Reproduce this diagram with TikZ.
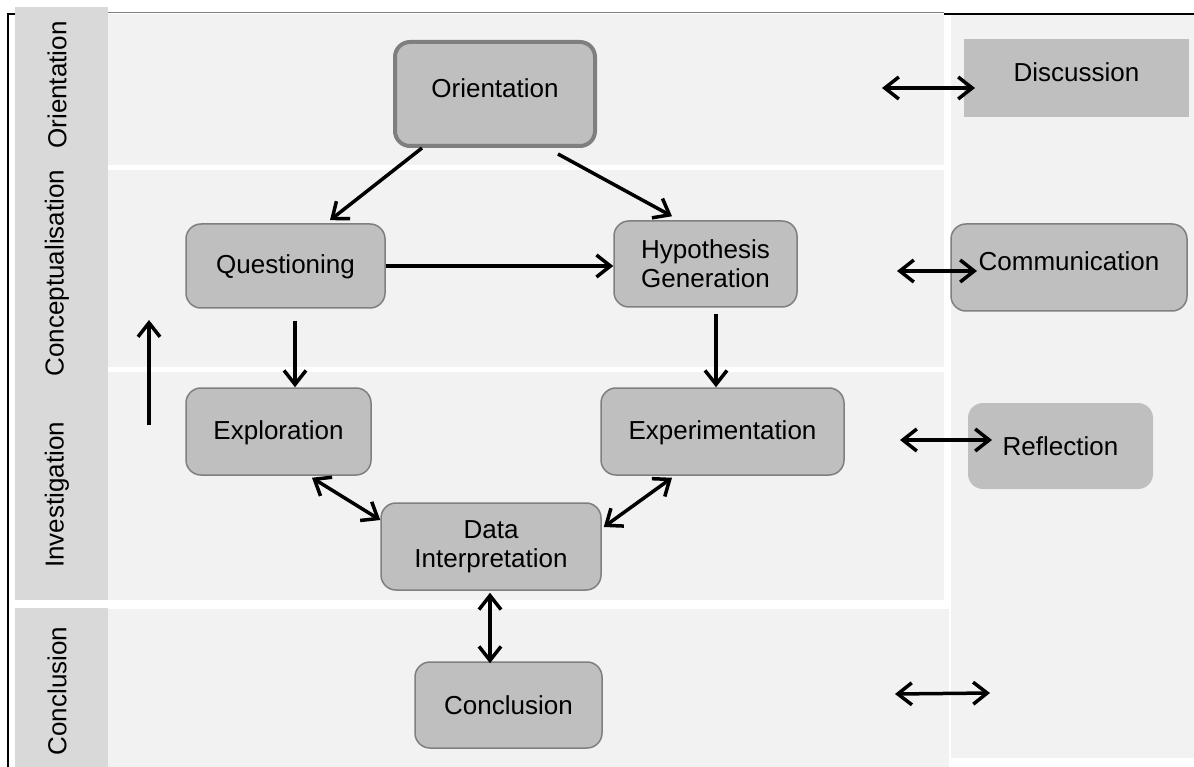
\documentclass[tikz,border=0pt]{standalone}
\usepackage{fontspec}
\setmainfont{Liberation Sans}
\usetikzlibrary{arrows.meta,calc}
\definecolor{band}{HTML}{F2F2F2}
\definecolor{lab}{HTML}{D9D9D9}
\definecolor{boxf}{HTML}{BFBFBF}
\definecolor{boxd}{HTML}{7F7F7F}
\tikzset{
  stage/.style={rounded corners=15pt, fill=boxf, draw=boxd, line width=1.5pt, align=center,
    inner sep=0pt, font=\fontsize{26}{29}\selectfont, text=black},
  plainbox/.style={fill=boxf, align=center, inner sep=0pt, font=\fontsize{26}{29}\selectfont, text=black},
  sidelabel/.style={rotate=90, font=\fontsize{26}{29}\selectfont, text=black},
  tip/.tip={Straight Barb[length=14pt,width=22pt,line width=3.5pt]},
  arr/.style={line width=3.5pt, -tip},
  darr/.style={line width=3.5pt, tip-tip},
}
\begin{document}
\begin{tikzpicture}[x=1pt,y=-1pt]
\useasboundingbox (0,0) rectangle (1194,767);
\fill[white] (0,0) rectangle (1194,767);
% right column
\fill[band] (951,14) rectangle (1194,758);
% label column
\fill[lab] (15,7) rectangle (108,600);
\fill[lab] (15,608) rectangle (108,767);
% bands
\fill[band] (108,14) rectangle (944,165);
\fill[band] (108,170) rectangle (944,367);
\fill[band] (108,372) rectangle (944,600);
\fill[band] (108,609) rectangle (949,767);
% frame
\draw[black, line width=1.5pt] (8,767) -- (8,14) -- (15,14);
\draw[black, line width=1.5pt] (944,14) -- (1194,14);
\draw[gray, line width=1pt] (108,13) -- (944,13);
% side labels
\node[sidelabel] (lorient) at (57,85) {Orientation};
\node[sidelabel] (lconc) at (57,273) {Conceptualisation};
\node[sidelabel] (linv) at (57,495) {Investigation};
\node[sidelabel] (lconcl) at (57,691) {Conclusion};
% stage nodes
\node[stage, line width=4pt, minimum width=200pt, minimum height=104pt, text height=19pt, text depth=12pt] (orient) at (495,94) {Orientation};
\node[stage, minimum width=199pt, minimum height=84pt, text height=19pt, text depth=3pt] (quest) at (285.5,266) {Questioning};
\node[stage, minimum width=183pt, minimum height=86pt] (hyp) at (705.5,264) {Hypothesis\\Generation};
\node[stage, minimum width=185pt, minimum height=87pt, text height=19pt, text depth=3pt] (explo) at (278.5,431.5) {Exploration};
\node[stage, minimum width=243pt, minimum height=87pt, text height=19pt, text depth=3pt] (exper) at (722.5,431.5) {Experimentation};
\node[stage, minimum width=220pt, minimum height=87pt] (data) at (491,546.5) {Data\\Interpretation};
\node[stage, minimum width=187pt, minimum height=86pt] (concl) at (508.5,705) {Conclusion};
% right nodes
\node[plainbox, minimum width=225pt, minimum height=78pt] (disc) at (1076.5,78) {};
\node[font=\fontsize{26}{29}\selectfont] (disct) at (1076.5,72) {Discussion};
\node[stage, minimum width=236pt, minimum height=87pt, text height=19pt, text depth=12pt] (comm) at (1069,267.5) {Communication};
\node[stage, draw=none, minimum width=185pt, minimum height=86pt] (refl) at (1060.5,446) {Reflection};
% connectors
\draw[arr] ([xshift=-73pt]orient.south) -- ([xshift=44.5pt,yshift=3pt]quest.north);
\draw[arr] ([xshift=63pt,yshift=-6pt]orient.south) -- ([xshift=-33.5pt,yshift=4pt]hyp.north);
\draw[arr] (quest.east) -- (quest.east -| hyp.west);
\draw[arr] ([xshift=9.5pt,yshift=-12pt]quest.south) -- ([xshift=16.5pt]explo.north);
\draw[arr] ([xshift=10.5pt,yshift=-6pt]hyp.south) -- ([xshift=-6.5pt]exper.north);
\draw[darr] ([xshift=33.5pt,yshift=-2pt]explo.south) -- ([yshift=26.5pt]data.west);
\draw[darr] ([xshift=-50.5pt,yshift=-2pt]exper.south) -- ([xshift=2pt,yshift=19.5pt]data.east);
\draw[darr] ([xshift=-1pt,yshift=-2pt]data.south) -- ([xshift=-18.5pt,yshift=-2pt]concl.north);
\coordinate (upa) at (149,425);
\coordinate (upb) at (149,320);
\draw[arr] (upa) -- (upb);
\coordinate (d1a) at (882,88);
\coordinate (d1b) at (975,88);
\draw[darr] (d1a) -- (d1b);
\coordinate (d2a) at (897,271);
\coordinate (d2b) at (977,271);
\draw[darr] (d2a) -- (d2b);
\coordinate (d3a) at (900,440);
\coordinate (d3b) at (992,440);
\draw[darr] (d3a) -- (d3b);
\coordinate (d4a) at (895,694);
\coordinate (d4b) at (990,693);
\draw[darr] (d4a) -- (d4b);
\end{tikzpicture}
\end{document}
